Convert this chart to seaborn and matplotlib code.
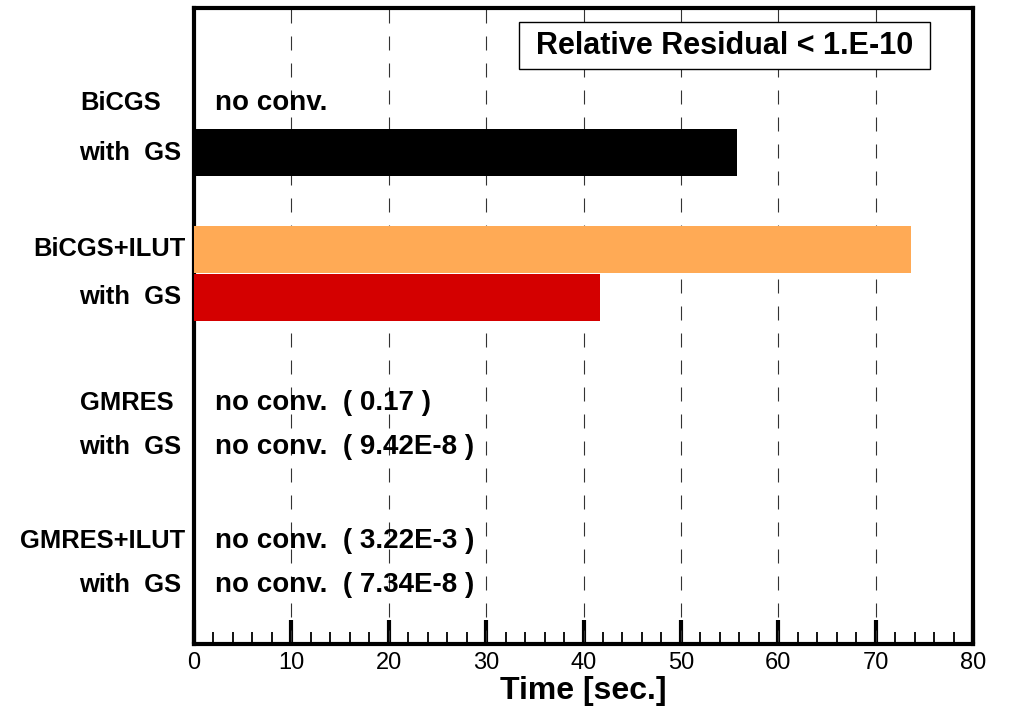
import matplotlib
matplotlib.use("Agg")
import matplotlib.pyplot as plt
import matplotlib.transforms as mtransforms
from matplotlib.patches import Rectangle
import seaborn as sns
import pandas as pd
from matplotlib.ticker import MultipleLocator

# ---- data ----
bar_methods = ["BiCGS with GS", "BiCGS+ILUT", "BiCGS+ILUT with GS"]
bar_times = [55.8, 73.6, 41.7]
bar_rows = [3.02, 5.03, 6.03]
bar_colors = ["#000000", "#FFAA55", "#D40000"]

row_labels = ["BiCGS", "with  GS", "BiCGS+ILUT", "with  GS",
              "GMRES", "with  GS", "GMRES+ILUT", "with  GS"]
row_label_pos = [1.98, 3.02, 5.03, 6.03, 8.23, 9.15, 11.1, 12.02]
row_label_x = [80, 79, 33, 79, 80, 79, 20, 79]  # left edge in pixels

note_texts = ["no conv.", "no conv.  ( 0.17 )", "no conv.  ( 9.42E-8 )",
              "no conv.  ( 3.22E-3 )", "no conv.  ( 7.34E-8 )"]
note_pos = [1.98, 8.23, 9.15, 11.1, 12.02]

xticks = [0, 10, 20, 30, 40, 50, 60, 70, 80]
title_box = "Relative Residual < 1.E-10"
xlabel = "Time [sec.]"

df = pd.DataFrame({"method": bar_methods, "time": bar_times, "row": bar_rows})

sns.set_theme(style="white")
plt.rcParams["font.family"] = ["Liberation Sans", "DejaVu Sans"]
plt.rcParams["text.color"] = "black"
plt.rcParams["axes.labelcolor"] = "black"
plt.rcParams["xtick.color"] = "black"
plt.rcParams["xtick.labelcolor"] = "black"

fig = plt.figure(figsize=(10.11, 7.11), dpi=100)
ax = fig.add_axes([194 / 1011, 67 / 711, (973 - 194) / 1011, (644 - 8) / 711])

sns.barplot(data=df, x="time", y="row", hue="method", orient="y",
            native_scale=True, dodge=False, width=0.98,
            palette=dict(zip(bar_methods, bar_colors)), errorbar=None,
            legend=False, ax=ax, saturation=1, linewidth=0, zorder=3)

ax.set_xlim(0, 80)
ax.set_ylim(13.25, 0)
ax.set_xticks(xticks)
ax.set_xticklabels([str(t) for t in xticks], fontsize=17)
ax.xaxis.set_minor_locator(MultipleLocator(2))
ax.set_yticks([])
ax.set_ylabel("")
ax.set_xlabel(xlabel, fontsize=23, fontweight="bold", labelpad=1)

ax.tick_params(axis="x", which="major", direction="in", length=17, width=3,
               color="black", pad=6, bottom=True, top=False)
ax.tick_params(axis="x", which="minor", direction="in", length=9, width=1.3,
               color="black", bottom=True, top=False)

for s in ax.spines.values():
    s.set_visible(True)
    s.set_linewidth(3)
    s.set_color("black")

ax.grid(False)
for t in xticks[1:-1]:
    ax.axvline(t, color="#333333", linewidth=0.8, dashes=(12.6, 11.7), zorder=1)

# Row labels on the left
lab_tr = mtransforms.blended_transform_factory(fig.transFigure, ax.transData)
for lab, yp, xp in zip(row_labels, row_label_pos, row_label_x):
    ax.text(xp / 1011, yp, lab, transform=lab_tr, ha="left", va="center",
            fontsize=18.4, fontweight="bold", clip_on=False)

# no conv notes
for txt, yp in zip(note_texts, note_pos):
    ax.text(2.2, yp, txt, ha="left", va="center", fontsize=20, fontweight="bold")

# boxed title
ax.add_patch(Rectangle((33.4, 0.29), 42.2, 0.98, facecolor="white",
                       edgecolor="black", linewidth=1, zorder=4))
ax.text(54.5, 0.79, title_box, ha="center", va="center", fontsize=22,
        fontweight="bold", zorder=5)

fig.savefig("out.png", dpi=100)
